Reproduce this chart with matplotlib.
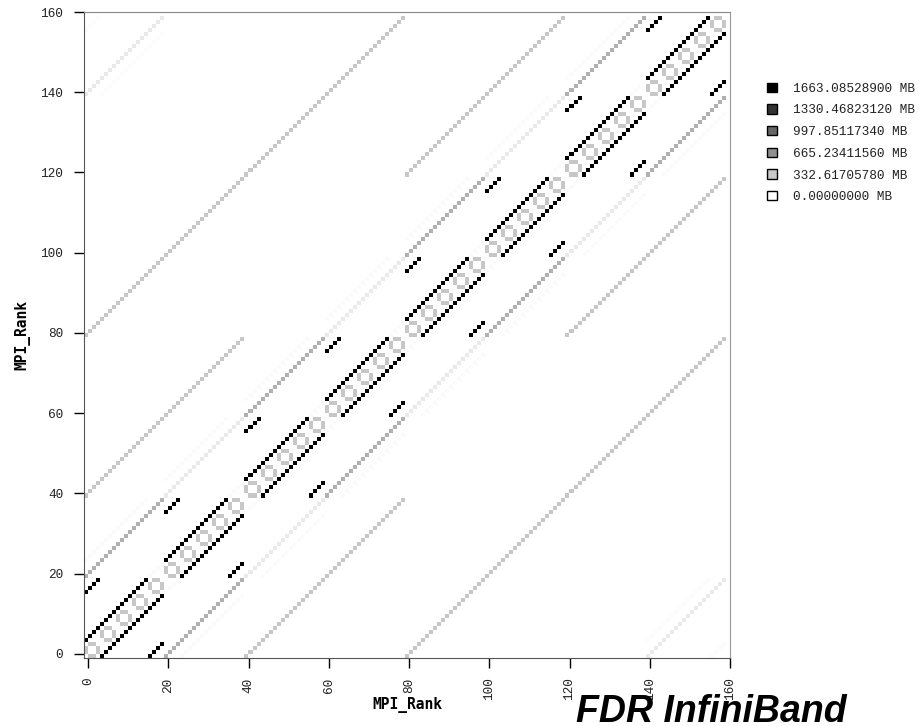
import numpy as np
import matplotlib
matplotlib.use("Agg")
import matplotlib.pyplot as plt
from matplotlib.colors import LinearSegmentedColormap
from matplotlib.patches import Patch

n_ranks = 160
vmax = 1663.085289

# start of each node (20 ranks) and of each 4 rank group
node_starts = [0, 20, 40, 60, 80, 100, 120, 140]
group_starts = [0, 4, 8, 12, 16]

# ring inside a group of 4 ranks
ring_dx = [0, 0, 1, 1, 2, 2, 3, 3]
ring_dy = [1, 2, 0, 3, 0, 3, 1, 2]
ring_mb = 370

# neighbours inside a node, black lines
black_y = [4, 16]
black_len = [16, 4]
black_mb = 1663.085289

# links between nodes, mirrored below
link_x = [0, 40, 80, 120, 20, 60, 100, 0, 0, 80, 0]
link_y = [20, 60, 100, 140, 40, 80, 120, 140, 40, 120, 80]
link_len = [20, 20, 20, 20, 20, 20, 20, 20, 40, 40, 80]
link_mb = [510, 510, 510, 510, 140, 140, 140, 140, 370, 370, 370]

# very faint lines beside the node links
faint_x = [0, 16, 20, 36, 40, 56, 60, 76, 80, 96, 100, 116, 120, 136, 4, 0]
faint_y = [24, 20, 44, 40, 64, 60, 84, 80, 104, 100, 124, 120, 144, 140, 140, 156]
faint_len = [16, 4, 16, 4, 16, 4, 16, 4, 16, 4, 16, 4, 16, 4, 16, 4]
faint_mb = 30

legend_mb = [1663.08528900, 1330.46823120, 997.85117340, 665.23411560, 332.61705780, 0.00000000]
legend_colors = ["#000000", "#333333", "#666666", "#8f8f8f", "#c8c8c8", "#ffffff"]

ticks = [0, 20, 40, 60, 80, 100, 120, 140, 160]

comm = np.zeros((n_ranks, n_ranks))

for node in node_starts:
    for group in group_starts:
        for dx, dy in zip(ring_dx, ring_dy):
            comm[node + group + dy, node + group + dx] = ring_mb
    for dy, length in zip(black_y, black_len):
        for k in range(length):
            comm[node + dy + k, node + k] = black_mb
            comm[node + k, node + dy + k] = black_mb

for x, y, length, mb in zip(link_x, link_y, link_len, link_mb):
    for k in range(length):
        comm[y + k, x + k] = mb
        comm[x + k, y + k] = mb

for x, y, length in zip(faint_x, faint_y, faint_len):
    for k in range(length):
        comm[y + k, x + k] = faint_mb
        comm[x + k, y + k] = faint_mb

cmap = LinearSegmentedColormap.from_list("bw", ["#ffffff", "#000000"])

fig = plt.figure(figsize=(9.19, 7.26), dpi=100)
ax = fig.add_axes([84 / 919, 1 - 658 / 726, 646 / 919, 646 / 726])

ax.imshow(comm, origin="lower", extent=(-1, 159, -1, 159), cmap=cmap, vmin=0, vmax=vmax,
          interpolation="nearest", aspect="auto")
ax.set_xlim(-1, 160)
ax.set_ylim(-1, 160)

ax.set_xticks(ticks)
ax.set_yticks(ticks)
ax.tick_params(axis="x", length=7, width=1, pad=7, labelrotation=90, labelsize=9.2)
ax.tick_params(axis="y", length=7.5, width=1, pad=7.5, labelsize=9.2)
for lab in ax.get_xticklabels() + ax.get_yticklabels():
    lab.set_family("Liberation Mono")
    lab.set_color("#222222")

ax.spines["left"].set_color("#555555")
ax.spines["bottom"].set_color("#555555")
ax.spines["top"].set_color("#888888")
ax.spines["right"].set_color("#999999")

ax.set_xlabel("MPI_Rank", family="DejaVu Sans Mono", fontweight="bold", fontsize=10.5)
ax.set_ylabel("MPI_Rank", family="DejaVu Sans Mono", fontweight="bold", fontsize=10.5)
ax.xaxis.set_label_coords(0.5, -39 / 646)
ax.yaxis.set_label_coords(-54 / 646, 0.5)

handles = [Patch(facecolor=c, edgecolor="#000000", linewidth=1) for c in legend_colors]
labels = ["%.8f MB" % v for v in legend_mb]
fig.legend(handles, labels, loc="upper left", bbox_to_anchor=(767 / 919, 1 - 82.5 / 726),
           frameon=False, prop={"family": "Liberation Mono", "size": 9.2},
           handlelength=0.75, handleheight=0.75, handletextpad=1.3, labelspacing=0.75,
           borderpad=0, borderaxespad=0, labelcolor="#222222")

fig.text(576 / 919, 1 - 722 / 726, "FDR InfiniBand", family="Liberation Sans", fontweight="bold",
         fontstyle="italic", fontsize=27, color="black")

fig.savefig("out.png", dpi=100)
